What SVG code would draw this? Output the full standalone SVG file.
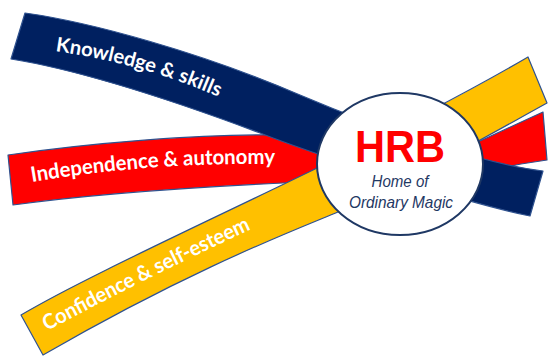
<svg xmlns="http://www.w3.org/2000/svg" width="549" height="356" viewBox="0 0 549 356">
<style>
.band{stroke:#2F528F;stroke-width:1.2;stroke-linejoin:round}
.lbl{fill:#FFFFFF;font-family:Lato,"Open Sans","Liberation Sans",sans-serif;font-weight:700}
.sub{fill:#1F3864;font-family:"Liberation Sans",Arial,sans-serif;font-style:italic;font-size:17px}
</style>
<defs>
<path id="pK" d="M55,51 Q150,65 225,100"/>
<path id="pI" d="M32,182 Q150,162 280,164"/>
<path id="pC" d="M47,331 Q150,276 254,228"/>
</defs>
<rect width="549" height="356" fill="#FFFFFF"/>
<g id="band-independence">
<path class="band" fill="#FF0000" d="M8,155 C90,143 200,134 275,135 L400,140 L480,141 L543,112 L547,160 L521,164 L480,172 L400,178 L283,183 C200,187 100,193 13,205 Z"/>
<text class="lbl" font-size="21"><textPath href="#pI" textLength="244" lengthAdjust="spacingAndGlyphs">Independence &amp; autonomy</textPath></text>
</g>
<g id="band-knowledge">
<path class="band" fill="#002060" d="M25,13 C90,22 200,52 300,95 C380,129 480,163 543,171 L530,216 C480,206 340,164 260,133 C180,103 80,70 11,59 Z"/>
<text class="lbl" font-size="20"><textPath href="#pK" textLength="170" lengthAdjust="spacingAndGlyphs">Knowledge &amp; skills</textPath></text>
</g>
<g id="band-confidence">
<path class="band" fill="#FFC000" d="M21,315 C80,280 200,225 313,170 C380,137 460,97 528,57 L547,103 C480,140 420,175 338,212 C290,232 190,270 43,355 Z"/>
<text class="lbl" font-size="21"><textPath href="#pC" textLength="228" lengthAdjust="spacingAndGlyphs">Confidence &amp; self-esteem</textPath></text>
</g>
<g id="hrb">
<ellipse cx="400" cy="164" rx="83" ry="71" fill="#FFFFFF" stroke="#1F3864" stroke-width="2"/>
<text x="400" y="162" text-anchor="middle" fill="#FF0000" font-family="'Liberation Sans',Arial,sans-serif" font-weight="700" font-size="44" textLength="90" lengthAdjust="spacingAndGlyphs">HRB</text>
<text class="sub" x="400" y="187" text-anchor="middle" textLength="57" lengthAdjust="spacingAndGlyphs">Home of</text>
<text class="sub" x="401" y="208" text-anchor="middle" textLength="104" lengthAdjust="spacingAndGlyphs">Ordinary Magic</text>
</g>
<g id="connectors"/>
</svg>
